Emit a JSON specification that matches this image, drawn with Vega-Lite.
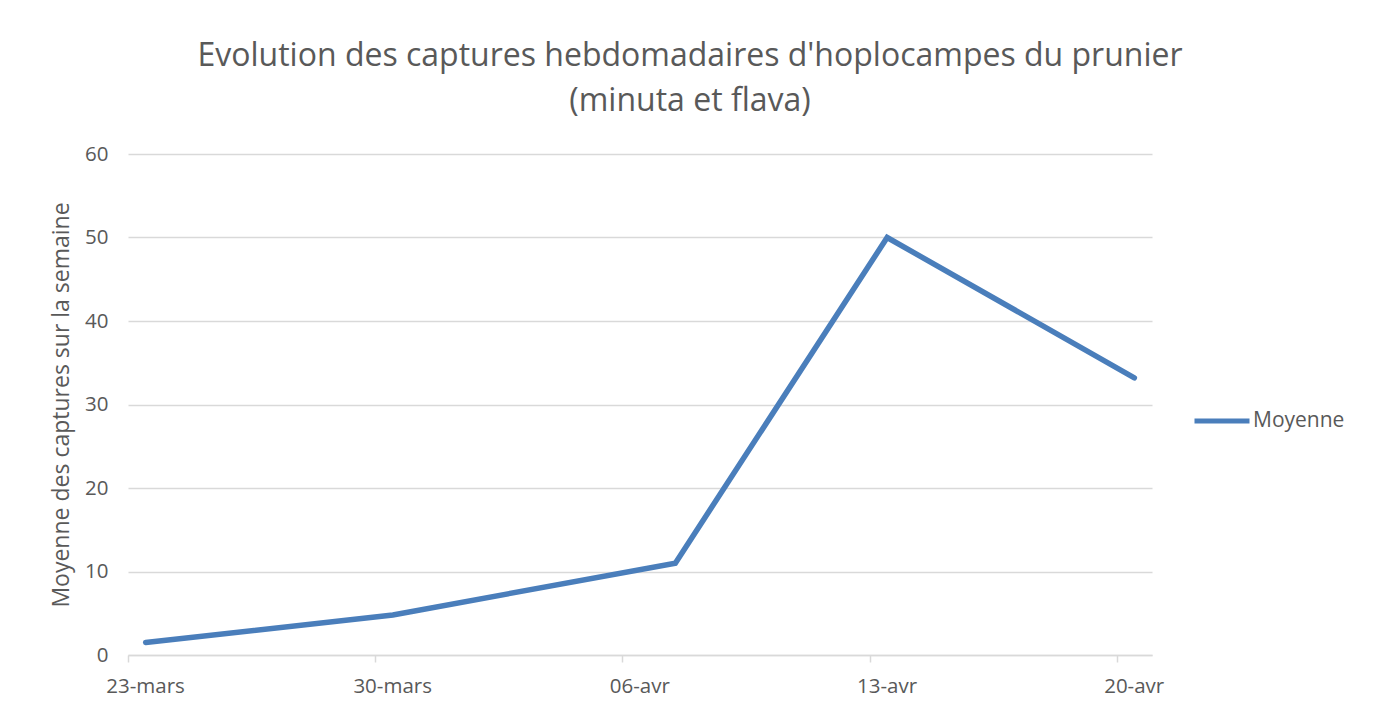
{
  "$schema": "https://vega.github.io/schema/vega-lite/v6.json",
  "width": 1024,
  "height": 501,
  "autosize": "none",
  "padding": {"left": 128, "top": 154, "right": 223, "bottom": 51},
  "background": "white",
  "title": {
    "text": ["Evolution des captures hebdomadaires d'hoplocampes du prunier", "(minuta et flava)"],
    "font": "Open Sans",
    "fontSize": 32,
    "fontWeight": "normal",
    "color": "#595959",
    "lineHeight": 45,
    "offset": 26,
    "dx": 50,
    "anchor": "middle"
  },
  "data": {
    "values": [
      {"date": "2020-03-23T12:00:00Z", "moyenne": 1.5, "serie": "Moyenne"},
      {"date": "2020-03-30T12:00:00Z", "moyenne": 4.8, "serie": "Moyenne"},
      {"date": "2020-04-07T12:00:00Z", "moyenne": 11.0, "serie": "Moyenne"},
      {"date": "2020-04-13T12:00:00Z", "moyenne": 50.0, "serie": "Moyenne"},
      {"date": "2020-04-20T12:00:00Z", "moyenne": 33.2, "serie": "Moyenne"}
    ]
  },
  "mark": {"type": "line", "strokeWidth": 5.5, "strokeCap": "round", "strokeJoin": "miter"},
  "encoding": {
    "x": {
      "field": "date",
      "type": "temporal",
      "scale": {
        "type": "utc",
        "domain": [
          {"year": 2020, "month": 3, "date": 23, "utc": true},
          {"year": 2020, "month": 4, "date": 21, "utc": true}
        ]
      },
      "axis": {
        "values": [
          {"year": 2020, "month": 3, "date": 23, "utc": true},
          {"year": 2020, "month": 3, "date": 30, "utc": true},
          {"year": 2020, "month": 4, "date": 6, "utc": true},
          {"year": 2020, "month": 4, "date": 13, "utc": true},
          {"year": 2020, "month": 4, "date": 20, "utc": true}
        ],
        "labelExpr": "utcFormat(datum.value, '%d') + '-' + (utcmonth(datum.value) == 2 ? 'mars' : 'avr')",
        "title": null,
        "grid": false,
        "domainColor": "#d9d9d9",
        "domainWidth": 1.5,
        "tickColor": "#d9d9d9",
        "tickSize": 7,
        "tickWidth": 1.5,
        "labelFont": "Open Sans",
        "labelFontSize": 20.5,
        "labelColor": "#595959",
        "labelOffset": 17,
        "labelPadding": 14,
        "labelFlush": false,
        "labelOverlap": false
      }
    },
    "y": {
      "field": "moyenne",
      "type": "quantitative",
      "scale": {"domain": [0, 60], "nice": false, "zero": true},
      "axis": {
        "values": [0, 10, 20, 30, 40, 50, 60],
        "domain": false,
        "ticks": false,
        "gridColor": "#d9d9d9",
        "gridWidth": 1.5,
        "labelFont": "Open Sans",
        "labelFontSize": 20.5,
        "labelColor": "#595959",
        "labelPadding": 20,
        "title": "Moyenne des captures sur la semaine",
        "titleFont": "Open Sans",
        "titleFontSize": 23,
        "titleFontWeight": "normal",
        "titleColor": "#595959",
        "titlePadding": 11
      }
    },
    "color": {
      "field": "serie",
      "type": "nominal",
      "scale": {"range": ["#4a7ebb"]},
      "legend": {
        "orient": "none",
        "legendX": 1064,
        "legendY": 237,
        "title": null,
        "symbolType": "stroke",
        "symbolSize": 3025,
        "symbolStrokeWidth": 5,
        "labelFont": "Open Sans",
        "labelFontSize": 21,
        "labelColor": "#595959",
        "labelOffset": 1
      }
    }
  },
  "config": {"view": {"stroke": null}}
}
